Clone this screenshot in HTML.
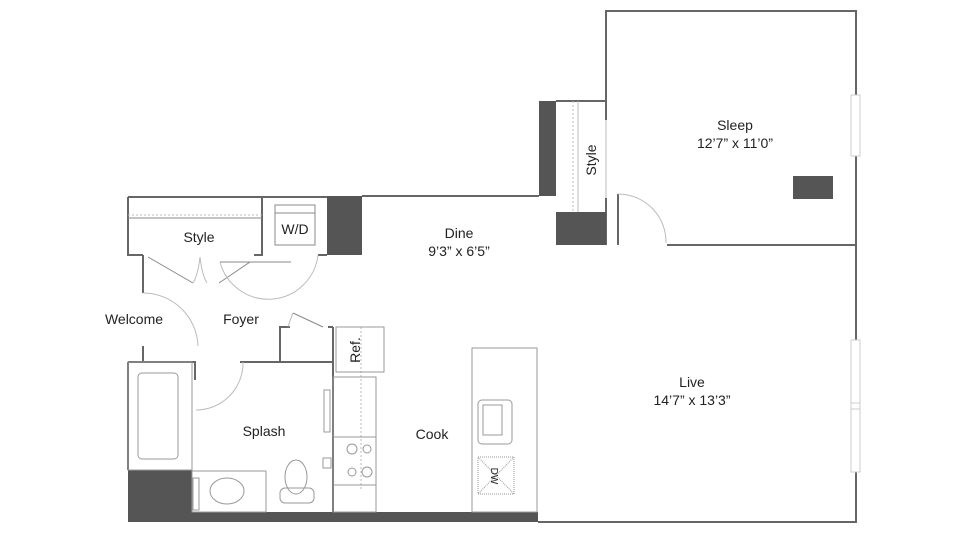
<!DOCTYPE html>
<html><head><meta charset="utf-8"><style>
html,body{margin:0;padding:0;background:#fff;}
svg{display:block;}
text{font-family:"Liberation Sans",sans-serif;fill:#222;}
</style></head><body>
<svg width="960" height="540" viewBox="0 0 960 540" xmlns="http://www.w3.org/2000/svg">
<g fill="none" stroke="#666" stroke-width="2">
<!-- outer right & sleep -->
<path d="M606 120 V11 H856 V522 H538"/>
<path d="M606 198 V245"/>
<path d="M667 245 H856"/>
<path d="M618 194 V245"/>
<!-- style closet sleep -->
<path d="M556 101 H606"/>
<path d="M362 196 H539"/>
<!-- left block -->
<path d="M128 197 H327 M128 197 V255 H143 M262 197 V255 H254 M327 255 H318"/>
<path d="M143 255 V293 M143 346 V362"/>
<path d="M128 362 H196 M240 362 H280 V327 H290 M280 362 H333 M333 327 V512 M328 327 H333"/>
<path d="M128 362 V470"/>
<path d="M195 362 V380"/>
</g>
<g fill="none" stroke="#888" stroke-width="1">
<path d="M128 218 H262"/>
<path d="M128 215 H262" stroke-dasharray="2,2" stroke="#bbb"/>
<rect x="275" y="205" width="40" height="40"/>
<path d="M275 213 H315"/>
<path d="M148 257 L193 283 M219 283 L250 262 L263 262"/>
<path d="M220 262 L291 262"/>
<path d="M293 313 L323 327"/>
</g>
<g fill="none" stroke="#bbb" stroke-width="1">
<path d="M200 257 Q198 275 193 283 M200 257 Q202 275 207 283"/>
<path d="M318 255 A50 50 0 0 1 220 262"/>
<path d="M293 313 Q290 320 288 327"/>
<path d="M143 293 A55 55 0 0 1 198 346"/>
<path d="M243 362 A47 47 0 0 1 196 410"/>
<path d="M618 194 A48 48 0 0 1 666 243"/>
<path d="M573 101 V212" stroke-dasharray="2,2"/>
<path d="M578 101 V212"/>
<path d="M606 120 V198"/>
<path d="M361 327 V490" stroke-dasharray="2,2"/>
</g>
<!-- dark blocks -->
<g fill="#555">
<rect x="539" y="101" width="17" height="95"/>
<rect x="556" y="212" width="50" height="33"/>
<rect x="327" y="196" width="35" height="59"/>
<rect x="128" y="470" width="64" height="52"/>
<rect x="192" y="512" width="346" height="10"/>
<rect x="793" y="176" width="40" height="23"/>
</g>
<!-- windows -->
<g fill="#fff" stroke="#ccc" stroke-width="1">
<rect x="851" y="95" width="9" height="61"/>
<rect x="851" y="340" width="9" height="132"/>
<path d="M851 403 H860 M851 409 H860"/>
</g>
<!-- bath fixtures -->
<g fill="none" stroke="#999" stroke-width="1">
<rect x="128" y="362" width="64" height="108"/>
<rect x="138" y="373" width="40" height="86" rx="4"/>
<rect x="192" y="471" width="74" height="41"/>
<ellipse cx="227" cy="491" rx="17" ry="13"/>
<ellipse cx="296" cy="477" rx="11" ry="17"/>
<rect x="280" y="488" width="34" height="15" rx="5"/>
<rect x="193" y="478" width="6" height="32"/>
<rect x="324" y="390" width="6" height="42"/>
<rect x="323" y="458" width="8" height="10"/>
<!-- kitchen -->
<rect x="336" y="327" width="48" height="45"/>
<rect x="333" y="377" width="43" height="135"/>
<rect x="333" y="437" width="43" height="48"/>
<circle cx="352" cy="449" r="5"/><circle cx="367" cy="449" r="4"/>
<circle cx="352" cy="472" r="4"/><circle cx="367" cy="472" r="5"/>
<rect x="472" y="348" width="65" height="164"/>
<rect x="478" y="400" width="34" height="44" rx="4"/>
<rect x="483" y="405" width="19" height="30"/>
<rect x="478" y="457" width="36" height="37" stroke-dasharray="1,1"/>
<path d="M478 457 L514 494 M514 457 L478 494" stroke-dasharray="1,1"/>
</g>
<!-- labels -->
<g font-size="14" text-anchor="middle">
<text x="735" y="130">Sleep</text>
<text x="735" y="148">12’7” x 11’0”</text>
<text x="459" y="238">Dine</text>
<text x="459" y="256">9’3” x 6’5”</text>
<text x="692" y="387">Live</text>
<text x="692" y="405">14’7” x 13’3”</text>
<text x="199" y="242">Style</text>
<text x="295" y="234">W/D</text>
<text x="134" y="324">Welcome</text>
<text x="241" y="324">Foyer</text>
<text x="264" y="436">Splash</text>
<text x="432" y="439">Cook</text>
<text transform="translate(596 160) rotate(-90)">Style</text>
<text transform="translate(360 350) rotate(-90)">Ref.</text>
<text font-size="10" transform="translate(491 476) rotate(90)">DW</text>
</g>
</svg>
</body></html>
